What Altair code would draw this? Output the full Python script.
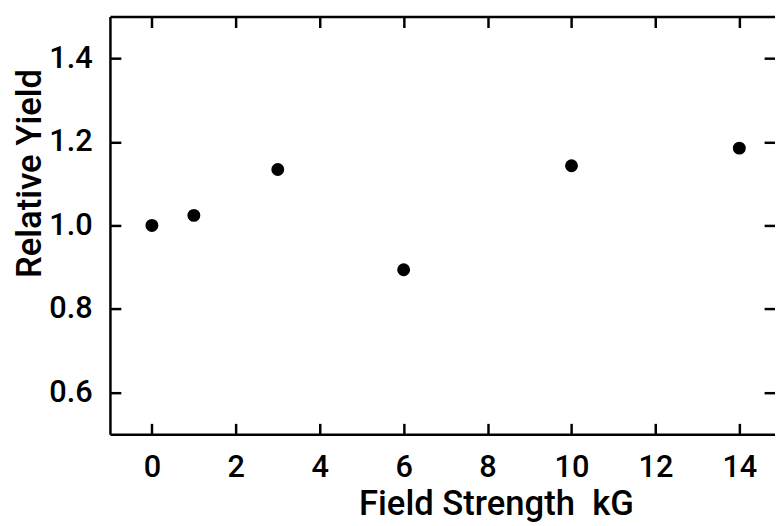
import altair as alt
import pandas as pd

# Data
field_kG = [0, 1, 3, 6, 10, 14]
relative_yield = [1.00, 1.024, 1.134, 0.894, 1.143, 1.185]
x_ticks = [0, 2, 4, 6, 8, 10, 12, 14]
y_ticks = [0.6, 0.8, 1.0, 1.2, 1.4]
x_domain = [-1, 14.85]
y_domain = [0.5, 1.5]

df = pd.DataFrame({"field": field_kG, "yield": relative_yield})

W, H = 672, 422
TICK = 11
FONT = "Roboto"
WEIGHT = 500
LW = 2.5


def xs():
    return alt.Scale(domain=x_domain, nice=False, zero=False)


def ys():
    return alt.Scale(domain=y_domain, nice=False, zero=False)


base = alt.Chart(df)

# Layer 1: points with inward ticks + labels + titles (bottom / left)
points = base.mark_circle(size=170, color="black", opacity=1).encode(
    x=alt.X(
        "field:Q",
        scale=xs(),
        axis=alt.Axis(
            orient="bottom", offset=-TICK, domain=False, grid=False,
            tickSize=TICK, tickWidth=LW, tickColor="black",
            values=x_ticks, format="d",
            labelFont=FONT, labelFontSize=31, labelFontWeight=WEIGHT, labelColor="black",
            labelPadding=19, labelFlush=False, labelOverlap=False,
            title="Field Strength\u00a0 kG", titleFont=FONT, titleFontSize=35,
            titleFontWeight=WEIGHT, titleColor="black",
            titleX=390, titleY=92, titleBaseline="alphabetic", titleAlign="center",
        ),
    ),
    y=alt.Y(
        "yield:Q",
        scale=ys(),
        axis=alt.Axis(
            orient="left", offset=-TICK, domain=False, grid=False,
            tickSize=TICK, tickWidth=LW, tickColor="black",
            values=y_ticks, format=".1f",
            labelFont=FONT, labelFontSize=31, labelFontWeight=WEIGHT, labelColor="black",
            labelPadding=18, labelFlush=False, labelOverlap=False,
            title="Relative Yield", titleFont=FONT, titleFontSize=35,
            titleFontWeight=WEIGHT, titleColor="black",
            titleAngle=270, titleX=-81.5, titleY=158,
            titleBaseline="alphabetic", titleAlign="center",
        ),
    ),
)

# Layer 2: frame lines bottom / left
frame_bl = base.mark_circle(opacity=0).encode(
    x=alt.X("field:Q", scale=xs(), axis=alt.Axis(
        orient="bottom", domain=True, domainColor="black", domainWidth=LW,
        ticks=False, labels=False, grid=False, title=None)),
    y=alt.Y("yield:Q", scale=ys(), axis=alt.Axis(
        orient="left", domain=True, domainColor="black", domainWidth=LW,
        ticks=False, labels=False, grid=False, title=None)),
)

# Layer 3: inward ticks on top / right
ticks_tr = base.mark_circle(opacity=0).encode(
    x=alt.X("field:Q", scale=xs(), axis=alt.Axis(
        orient="top", offset=-TICK, domain=False, grid=False,
        tickSize=TICK, tickWidth=LW, tickColor="black",
        values=x_ticks, labels=False, title=None)),
    y=alt.Y("yield:Q", scale=ys(), axis=alt.Axis(
        orient="right", offset=-TICK, domain=False, grid=False,
        tickSize=TICK, tickWidth=LW, tickColor="black",
        values=y_ticks, labels=False, title=None)),
)

# Layer 4: top frame line
frame_t = base.mark_circle(opacity=0).encode(
    x=alt.X("field:Q", scale=xs(), axis=alt.Axis(
        orient="top", domain=True, domainColor="black", domainWidth=LW,
        ticks=False, labels=False, grid=False, title=None)),
    y=alt.Y("yield:Q", scale=ys(), axis=None),
)

chart = (
    alt.layer(frame_bl, frame_t, ticks_tr, points)
    .resolve_scale(x="independent", y="independent")
    .resolve_axis(x="independent", y="independent")
    .properties(
        width=W,
        height=H,
        autosize=alt.AutoSizeParams(type="none"),
        padding={"left": 103, "top": 6, "right": 0, "bottom": 90},
        background="white",
    )
    .configure_view(stroke=None)
)

chart.save("out.html", embed_options={"renderer": "svg", "actions": False})
